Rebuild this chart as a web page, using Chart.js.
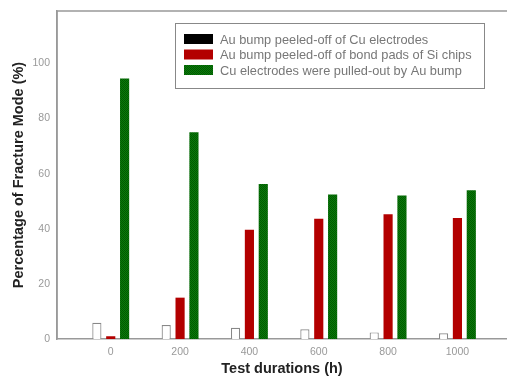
<!DOCTYPE html>
<html>
<head>
<meta charset="utf-8">
<script src="https://cdn.jsdelivr.net/npm/chart.js@4.4.0/dist/chart.umd.min.js"></script>
<style>
  html, body { margin: 0; padding: 0; background: #fff; }
  #wrap { width: 507px; height: 378px; }
</style>
</head>
<body>
<div id="wrap"><canvas id="myChart"></canvas></div>
<script>
// test durations (h)
var durations = [0, 200, 400, 600, 800, 1000];
var series_labels = [
    "Au bump peeled-off of Cu electrodes",
    "Au bump peeled-off of bond pads of Si chips",
    "Cu electrodes were pulled-out by Au bump"
];
var peeled_cu = [5.9, 5.1, 4.1, 3.5, 2.4, 2.1];
var peeled_si = [1, 15, 39.6, 43.6, 45.3, 43.9];
var pulled_out = [94.5, 75, 56.2, 52.4, 52.1, 54];
var y_ticks = [0, 20, 40, 60, 80, 100];

// checkered fill like the scanned picture
function checker(c1, c2) {
    var pc = document.createElement('canvas');
    pc.width = 2; pc.height = 2;
    var g = pc.getContext('2d');
    g.fillStyle = c1; g.fillRect(0, 0, 2, 2);
    g.fillStyle = c2; g.fillRect(0, 0, 1, 1); g.fillRect(1, 1, 1, 1);
    return g.createPattern(pc, 'repeat');
}
var greenFill = checker('#0b7a0b', '#005a00');
var redFill = '#b30000';

function pts(arr) {
    return arr.map(function (v, i) { return { x: durations[i], y: v }; });
}

// frame + legend box drawn inside the plot area
var framePlugin = {
    id: 'frame',
    afterDraw: function (chart) {
        var c = chart.ctx, a = chart.chartArea;
        c.save();
        c.strokeStyle = '#999';
        c.lineWidth = 1.5;
        c.beginPath();
        c.moveTo(a.left, a.bottom);
        c.lineTo(a.left, a.top);
        c.lineTo(a.right, a.top);
        c.stroke();
        // legend
        var lx = 175, ly = 23, lw = 309, lh = 65;
        c.strokeStyle = '#888';
        c.lineWidth = 1;
        c.fillStyle = '#fff';
        c.fillRect(lx, ly, lw, lh);
        c.strokeRect(lx + 0.5, ly + 0.5, lw, lh);
        var swatches = ['#000', redFill, greenFill];
        c.font = '12.8px "Liberation Sans", Arial, sans-serif';
        c.textBaseline = 'middle';
        for (var i = 0; i < series_labels.length; i++) {
            var yy = ly + 16 + i * 15.5;
            c.fillStyle = swatches[i];
            c.fillRect(lx + 9, yy - 5, 29, 10);
            c.fillStyle = '#777';
            c.fillText(series_labels[i], lx + 45, yy + 1);
        }
        c.restore();
    }
};

var ctx = document.getElementById('myChart').getContext('2d');
var chart = new Chart(ctx, {
    type: 'bar',
    data: {
        datasets: [{
            label: series_labels[0],
            data: pts(peeled_cu),
            backgroundColor: '#fff',
            borderColor: '#888',
            borderWidth: 1.2,
            borderSkipped: 'bottom'
        },
        {
            label: series_labels[1],
            data: pts(peeled_si),
            backgroundColor: redFill,
            borderWidth: 0
        },
        {
            label: series_labels[2],
            data: pts(pulled_out),
            backgroundColor: greenFill,
            borderWidth: 0
        }]
    },
    options: {
        responsive: true,
        maintainAspectRatio: false,
        animation: false,
        layout: { padding: { top: 11, right: 0, left: 0, bottom: 0 } },
        datasets: {
            bar: { categoryPercentage: 0.6, barPercentage: 0.66 }
        },
        plugins: {
            legend: { display: false },
            tooltip: { enabled: false }
        },
        scales: {
            x: {
                type: 'linear',
                min: -155,
                max: 1143,
                offset: false,
                afterBuildTicks: function (s) {
                    s.ticks = durations.map(function (d) { return { value: d }; });
                },
                afterFit: function (s) { s.height = 39; },
                grid: { display: false, drawTicks: false },
                border: { color: '#999', width: 1.5 },
                ticks: {
                    color: '#999',
                    padding: 7,
                    callback: function (v) { return String(v); },
                    font: { family: '"Liberation Sans", Arial, sans-serif', size: 10.5 }
                },
                title: {
                    display: true,
                    text: 'Test durations (h)',
                    color: '#222',
                    padding: { top: 3, bottom: 0 },
                    font: { family: '"Liberation Sans", Arial, sans-serif', size: 14.5, weight: 'bold' }
                }
            },
            y: {
                min: 0,
                max: 119,
                afterBuildTicks: function (s) {
                    s.ticks = y_ticks.map(function (v) { return { value: v }; });
                },
                afterFit: function (s) { s.width = 57; },
                grid: { display: false, drawTicks: true, tickLength: 4 },
                border: { color: '#999', width: 1.5 },
                ticks: {
                    color: '#999',
                    padding: 3,
                    font: { family: '"Liberation Sans", Arial, sans-serif', size: 10.5 }
                },
                title: {
                    display: true,
                    text: 'Percentage of Fracture Mode (%)',
                    color: '#222',
                    padding: { top: 10, bottom: 0 },
                    font: { family: '"Liberation Sans", Arial, sans-serif', size: 14.5, weight: 'bold' }
                }
            }
        }
    },
    plugins: [framePlugin]
});
</script>
</body>
</html>
